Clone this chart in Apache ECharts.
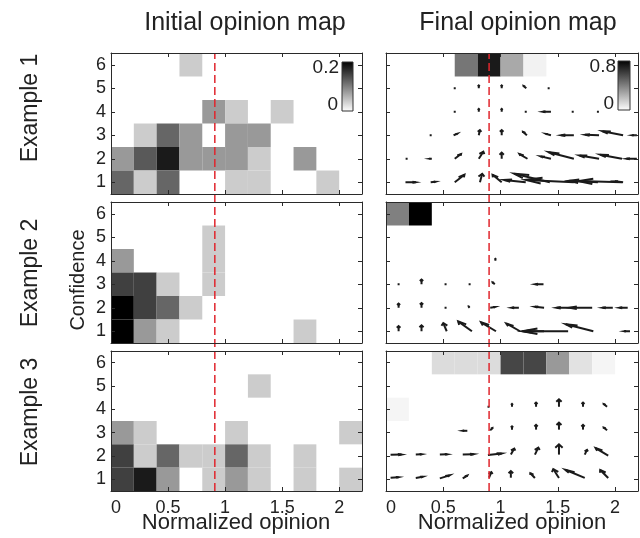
<!DOCTYPE html>
<html>
<head>
<meta charset="utf-8">
<script src="https://cdn.jsdelivr.net/npm/echarts@6/dist/echarts.min.js"></script>
<style>
  html, body { margin: 0; background: #fff; }
  #chart { width: 640px; height: 538px; }
</style>
</head>
<body>
<div id="chart"></div>
<script>
// axis ticks and bins
var xTicks = [0, 0.5, 1, 1.5, 2];
var yTicks = [1, 2, 3, 4, 5, 6];
var binWidth = 0.2;
var initialMax = 0.2, finalMax = 0.8;
var dashX = [0.91, 0.9];

// heat cells: [bin left edge, confidence, fraction]
var initial1 = [
  [0.6, 6, 0.04],
  [0.8, 4, 0.08], [1.0, 4, 0.04], [1.4, 4, 0.04],
  [0.2, 3, 0.04], [0.4, 3, 0.12], [0.6, 3, 0.08], [1.0, 3, 0.08], [1.2, 3, 0.08],
  [0, 2, 0.08], [0.2, 2, 0.13], [0.4, 2, 0.18], [0.6, 2, 0.08], [0.8, 2, 0.08], [1.0, 2, 0.08], [1.2, 2, 0.04], [1.6, 2, 0.08],
  [0, 1, 0.12], [0.2, 1, 0.04], [0.4, 1, 0.12], [1.0, 1, 0.04], [1.2, 1, 0.04], [1.8, 1, 0.04]
];
var initial2 = [
  [0.8, 5, 0.04],
  [0, 4, 0.08], [0.8, 4, 0.04],
  [0, 3, 0.15], [0.2, 3, 0.15], [0.4, 3, 0.04], [0.8, 3, 0.04],
  [0, 2, 0.2], [0.2, 2, 0.15], [0.4, 2, 0.12], [0.6, 2, 0.04],
  [0, 1, 0.2], [0.2, 1, 0.08], [0.4, 1, 0.04], [1.6, 1, 0.04]
];
var initial3 = [
  [1.2, 5, 0.04],
  [0, 3, 0.08], [0.2, 3, 0.04], [1.0, 3, 0.04], [2.0, 3, 0.04],
  [0, 2, 0.15], [0.2, 2, 0.04], [0.4, 2, 0.12], [0.6, 2, 0.04], [0.8, 2, 0.04], [1.0, 2, 0.12], [1.2, 2, 0.04], [1.6, 2, 0.04],
  [0, 1, 0.15], [0.2, 1, 0.18], [0.4, 1, 0.08], [0.8, 1, 0.04], [1.0, 1, 0.08], [1.2, 1, 0.04], [1.6, 1, 0.04], [2.0, 1, 0.04]
];
var final1Heat = [[0.6, 6, 0.43], [0.8, 6, 0.72], [1.0, 6, 0.27], [1.2, 6, 0.04]];
var final2Heat = [[0, 6, 0.4], [0.2, 6, 0.8]];
var final3Heat = [
  [0.4, 6, 0.11], [0.6, 6, 0.11], [0.8, 6, 0.11], [1.0, 6, 0.58], [1.2, 6, 0.58],
  [1.4, 6, 0.32], [1.6, 6, 0.09], [1.8, 6, 0.03], [0, 4, 0.03]
];

// drift arrows: [opinion, confidence, d opinion, d confidence]
var final1Arrows = [
  [0.60, 5, 0, 0], [0.81, 5, 0, 0.12], [1.01, 5, 0, 0.12], [1.225, 5, -0.025, 0.1], [1.42, 5, 0, 0],
  [0.60, 4, 0, 0], [0.81, 4, 0, 0.12], [1.01, 4, 0, 0.12], [1.22, 4, 0, 0], [1.44, 4, -0.07, 0], [1.63, 4, 0, 0], [1.85, 4, 0, 0],
  [0.39, 3, 0, 0], [0.59, 3, 0.03, 0.06], [0.81, 3, 0.01, 0.22], [1.01, 3, 0, 0.22], [1.23, 3, -0.035, 0.15], [1.44, 3, -0.045, 0.06],
  [1.64, 3, -0.11, 0], [1.86, 3, -0.12, 0.02], [2.07, 3, -0.18, 0.17], [2.19, 3, -0.04, 0],
  [0.18, 2, 0, 0], [0.40, 2, -0.02, 0], [0.60, 2, 0.055, 0.2], [0.81, 2, 0.04, 0.3], [1.01, 2, 0, 0.26], [1.235, 2, -0.07, 0.2],
  [1.44, 2, -0.09, 0.1], [1.64, 2, -0.22, 0.28], [1.86, 2, -0.17, 0.14], [2.06, 2, -0.19, 0.17], [2.19, 2, -0.09, 0],
  [0.17, 1, 0.09, 0], [0.39, 1, 0.04, 0.02], [0.60, 1, 0.085, 0.32], [0.82, 1, 0.02, 0.36], [1.01, 1, -0.08, 0.32],
  [1.22, 1, -0.19, 0.1], [1.43, 1, -0.31, 0.36], [1.64, 1, -0.42, 0.1], [1.85, 1, -0.25, 0.06], [2.06, 1, -0.38, 0.05], [2.07, 1, -0.07, 0.04]
];
var final2Arrows = [
  [0.955, 4, 0, 0.08],
  [0.11, 3, 0, 0], [0.31, 3, 0, 0.2], [0.52, 3, 0, 0], [0.73, 3, 0, 0], [0.95, 3, -0.02, 0.08], [1.375, 3, -0.07, 0],
  [0.11, 2, 0, 0.18], [0.31, 2, 0, 0.2], [0.52, 2, 0, 0], [0.73, 2, -0.01, 0.06], [0.91, 2, 0.04, 0.03], [1.16, 2, -0.06, 0],
  [1.38, 2, -0.08, 0.04], [1.6, 2, -0.11, 0], [1.8, 2, -0.2, 0], [1.98, 2, -0.09, 0], [2.11, 2, -0.07, 0],
  [0.11, 1, 0, 0.22], [0.31, 1, 0, 0.25], [0.53, 1, -0.03, 0.35], [0.75, 1, -0.12, 0.42], [0.96, 1, -0.13, 0.38],
  [1.17, 1, -0.12, 0.33], [1.38, 1, -0.17, 0], [1.59, 1, -0.4, 0], [1.81, 1, -0.24, 0.3], [2.13, 1, -0.05, 0]
];
var final3Arrows = [
  [0.895, 4.11, 0, 0], [1.1, 4.11, 0, 0.12], [1.31, 4.11, 0, 0.18], [1.51, 4.11, 0, 0.32], [1.72, 4.11, 0, 0.18], [1.93, 4.11, -0.03, 0.12],
  [0.71, 3.08, -0.04, 0], [0.91, 3.1, 0.02, 0.1], [1.1, 3.13, 0, 0.14], [1.31, 3.13, 0, 0.2], [1.51, 3.13, 0, 0.3], [1.72, 3.13, 0, 0.2], [1.93, 3.1, -0.03, 0.12],
  [0.04, 2.05, 0.095, 0.01], [0.26, 2.06, 0.05, 0.01], [0.47, 2.06, 0.065, 0.01], [0.67, 2.06, 0.095, 0.02], [0.89, 2.04, 0.12, 0.07],
  [1.09, 2.06, 0.03, 0.26], [1.3, 2.06, 0.03, 0.3], [1.51, 2.06, 0, 0.44], [1.735, 2.06, 0.02, 0.2], [1.94, 2.02, -0.11, 0.32],
  [0.04, 1.07, 0.07, 0.02], [0.26, 1.06, 0.06, 0.05], [0.47, 1.04, 0.085, 0.13], [0.67, 1.04, 0.04, 0.12], [0.9, 1.07, 0.02, 0.24],
  [1.09, 1.07, 0, 0.28], [1.3, 1.06, -0.04, 0.2], [1.51, 1.06, -0.05, 0.38], [1.735, 1.06, -0.17, 0.35], [1.94, 1.06, -0.07, 0.34]
];

var heatSets = [[initial1, final1Heat], [initial2, final2Heat], [initial3, final3Heat]];
var arrowSets = [final1Arrows, final2Arrows, final3Arrows];

var fontName = 'Liberation Sans';
var axisColor = '#2a2a2a';
var textColor = '#222';
var cols = [{left: 111, width: 251}, {left: 386, width: 252}];
var rows = [{top: 53, height: 141}, {top: 202, height: 141}, {top: 351, height: 140}];

function axis(dim, g, pos, labels) {
  var isX = dim === 'x';
  var ticks = isX ? xTicks : yTicks;
  return {
    gridIndex: g, type: 'value', position: pos, z: 10,
    min: isX ? 0 : 0.5, max: isX ? 2.2 : 6.5,
    axisLine: {show: true, onZero: false, lineStyle: {color: axisColor, width: 1}},
    axisTick: {show: true, inside: true, length: 4, customValues: ticks, lineStyle: {color: axisColor}},
    axisLabel: {show: labels, customValues: ticks, margin: isX ? 8 : 5, fontSize: 18,
      fontFamily: fontName, color: textColor, alignMinLabel: isX ? 'left' : null},
    splitLine: {show: false}
  };
}

function heatItem(maxV) {
  return function (params, api) {
    var x = api.value(0), y = api.value(1), v = api.value(2);
    var a = api.coord([x, y + 0.5]), b = api.coord([x + binWidth, y - 0.5]);
    var k = Math.round(255 * (1 - Math.min(v / maxV, 1)));
    return {type: 'rect', shape: {x: a[0], y: a[1], width: b[0] - a[0], height: b[1] - a[1]},
      style: {fill: 'rgb(' + k + ',' + k + ',' + k + ')'}};
  };
}

// quiver-style arrow: head computed in data units, like the original plot
var headLen = 0.33, headWidth = 0.22;
function arrowItem(params, api) {
  var x = api.value(0), y = api.value(1), u = api.value(2), v = api.value(3);
  var p0 = api.coord([x, y]), p1 = api.coord([x + u, y + v]);
  var dx = p1[0] - p0[0], dy = p1[1] - p0[1];
  var len = Math.sqrt(dx * dx + dy * dy);
  if (len < 1.5) {
    return {type: 'rect', shape: {x: p0[0] - 1, y: p0[1] - 1, width: 2, height: 2}, style: {fill: '#1a1a1a'}};
  }
  var tx = x + u, ty = y + v;
  var h1 = api.coord([tx - headLen * (u + headWidth * v), ty - headLen * (v - headWidth * u)]);
  var h2 = api.coord([tx - headLen * (u - headWidth * v), ty - headLen * (v + headWidth * u)]);
  var nx = -dy / len, ny = dx / len, minW = 0.06 * len;
  [h1, h2].forEach(function (p, i) {
    var perp = (p[0] - p1[0]) * nx + (p[1] - p1[1]) * ny;
    if (Math.abs(perp) < minW) {
      var sgn = perp === 0 ? (i ? 1 : -1) : (perp > 0 ? 1 : -1);
      var add = sgn * minW - perp;
      p[0] += add * nx;
      p[1] += add * ny;
    }
  });
  var st = {stroke: '#1a1a1a', lineWidth: 2, fill: null};
  return {type: 'group', children: [
    {type: 'line', shape: {x1: p0[0], y1: p0[1], x2: p1[0], y2: p1[1]}, style: st},
    {type: 'polyline', shape: {points: [h1, p1, h2]}, style: st}
  ]};
}

function dashItem(params, api) {
  var x = api.value(0);
  var a = api.coord([x, 0]), b = api.coord([x, 1]);
  return {type: 'line', shape: {x1: a[0], y1: a[1], x2: b[0], y2: b[1]},
    style: {stroke: '#e0262e', lineWidth: 1.5, lineDash: [8, 4]}};
}

var grids = [], xAxes = [], yAxes = [], series = [];
rows.forEach(function (r, ri) {
  cols.forEach(function (c, ci) {
    var g = grids.length;
    grids.push({left: c.left, top: r.top, width: c.width, height: r.height});
    xAxes.push(axis('x', g, 'bottom', ri === 2), axis('x', g, 'top', false));
    yAxes.push(axis('y', g, 'left', ci === 0), axis('y', g, 'right', false));
    series.push({type: 'custom', xAxisIndex: 2 * g, yAxisIndex: 2 * g, z: 1, clip: true,
      renderItem: heatItem(ci ? finalMax : initialMax), data: heatSets[ri][ci]});
    if (ci === 1) {
      series.push({type: 'custom', xAxisIndex: 2 * g, yAxisIndex: 2 * g, z: 3,
        renderItem: arrowItem, data: arrowSets[ri]});
    }
  });
});
cols.forEach(function (c, ci) {
  var g = grids.length;
  grids.push({left: c.left, width: c.width, top: rows[0].top,
    height: rows[2].top + rows[2].height - rows[0].top});
  xAxes.push({gridIndex: g, type: 'value', min: 0, max: 2.2, show: false});
  yAxes.push({gridIndex: g, type: 'value', min: 0, max: 1, show: false});
  series.push({type: 'custom', xAxisIndex: xAxes.length - 1, yAxisIndex: yAxes.length - 1, z: 4,
    renderItem: dashItem, data: [[dashX[ci]]]});
});

function label(text, x, y, size, rotate, align) {
  return {type: 'text', x: x, y: y, rotation: rotate ? Math.PI / 2 : 0, z: 100,
    style: {text: text, fontSize: size, fontFamily: fontName, fill: textColor,
      align: align || 'center', verticalAlign: 'middle', textAlign: align || 'center', textVerticalAlign: 'middle'}};
}
function colorbar(x, y, w, h) {
  return {type: 'rect', z: 100, shape: {x: x, y: y, width: w, height: h},
    style: {stroke: '#333', lineWidth: 1,
      fill: {type: 'linear', x: 0, y: 0, x2: 0, y2: 1,
        colorStops: [{offset: 0, color: '#000'}, {offset: 1, color: '#fff'}]}}};
}

var graphic = [
  label('Initial opinion map', 245, 23, 25),
  label('Final opinion map', 518, 23, 25),
  label('Example 1', 31, 108, 23, true),
  label('Example 2', 31, 273, 23, true),
  label('Example 3', 31, 412, 23, true),
  label('Confidence', 78, 280, 20, true),
  label('Normalized opinion', 236, 523, 22),
  label('Normalized opinion', 512, 523, 22),
  colorbar(342, 62, 11, 49),
  label(String(initialMax), 339, 68, 19, false, 'right'),
  label('0', 338, 105, 19, false, 'right'),
  colorbar(618, 61, 12, 49),
  label(String(finalMax), 616, 67, 19, false, 'right'),
  label('0', 614, 104, 19, false, 'right')
];

var myChart = echarts.init(document.getElementById('chart'));
var option = {
  animation: false,
  backgroundColor: '#fff',
  grid: grids,
  xAxis: xAxes,
  yAxis: yAxes,
  series: series,
  graphic: graphic
};
myChart.setOption(option);
</script>
</body>
</html>
